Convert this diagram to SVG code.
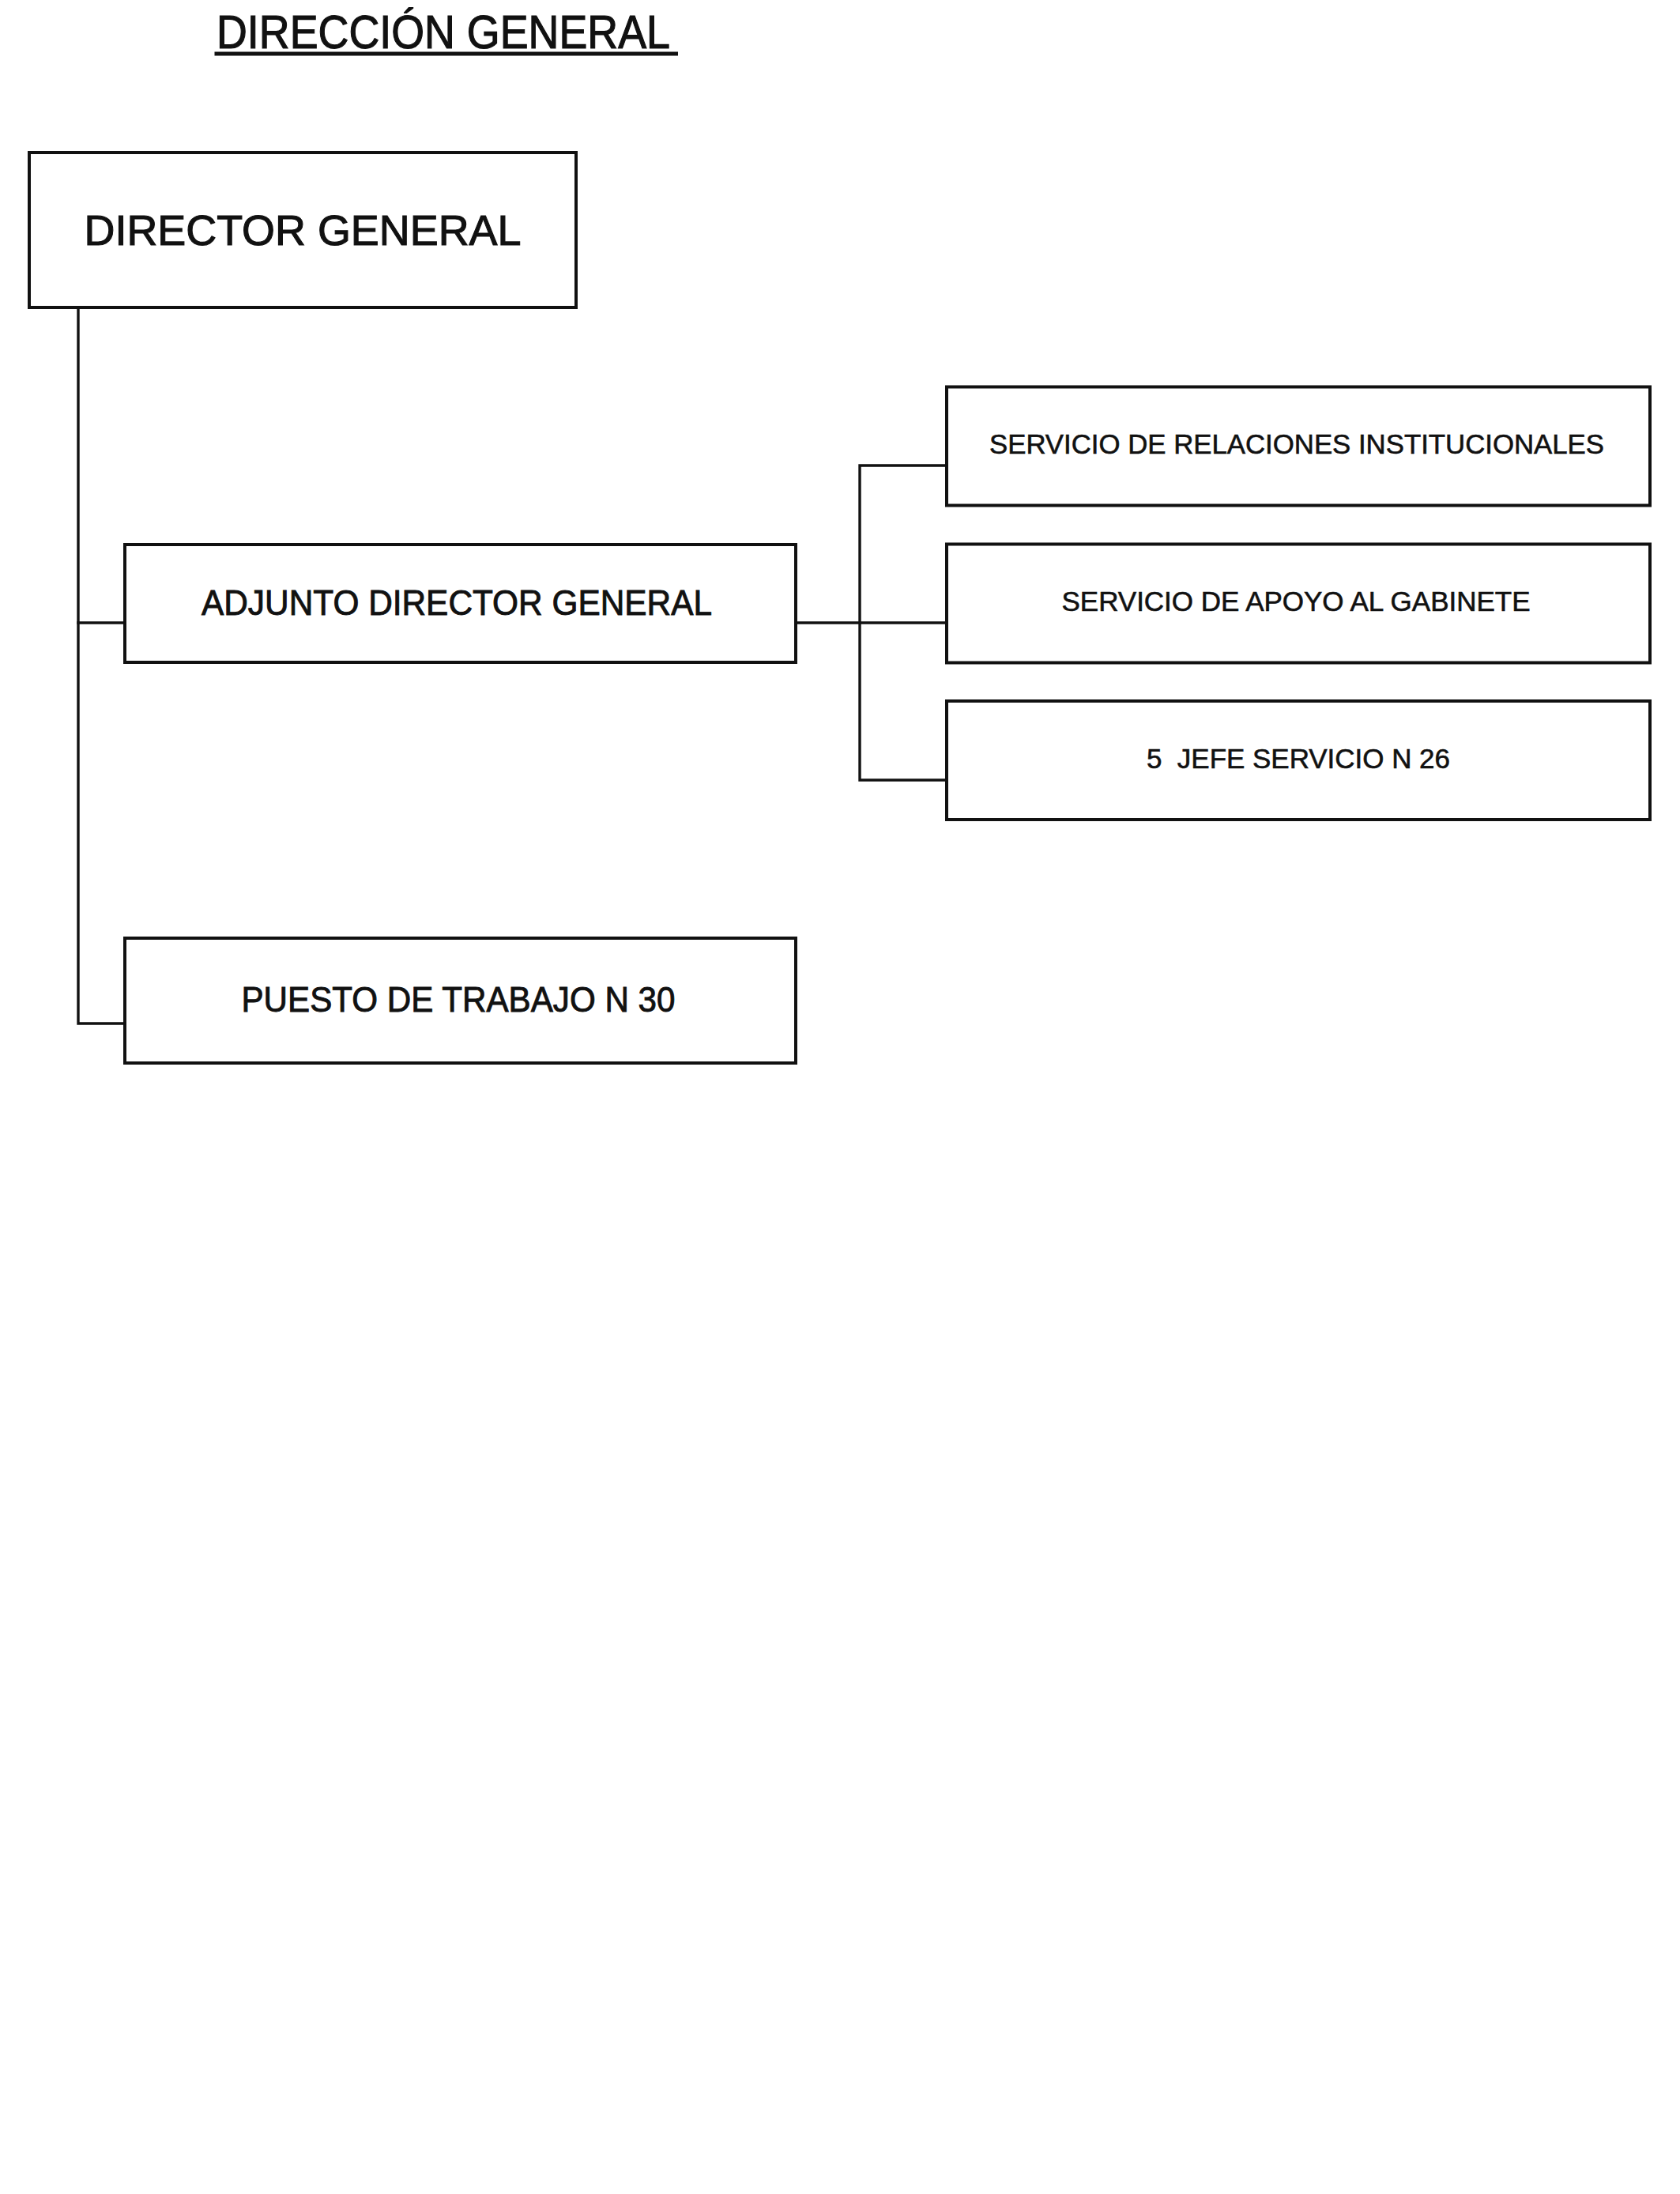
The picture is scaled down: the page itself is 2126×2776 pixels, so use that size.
<svg xmlns="http://www.w3.org/2000/svg" width="2126" height="2776" viewBox="0 0 2126 2776">
  <style>
    .box { fill: #ffffff; stroke: #111111; stroke-width: 4; }
    .conn { fill: none; stroke: #111111; stroke-width: 3.4; stroke-linecap: square; }
    .lbl { font-family: "Liberation Sans", Arial, sans-serif; fill: #111111; stroke: #111111; stroke-width: 0.9; text-anchor: middle; white-space: pre; }
  </style>
  <rect x="0" y="0" width="2126" height="2776" fill="#ffffff"/>

  <g id="title">
    <text class="lbl" x="561" y="61" font-size="60" textLength="574" lengthAdjust="spacingAndGlyphs" style="stroke-width:1.2">DIRECCIÓN GENERAL</text>
    <line x1="271.5" y1="68" x2="858" y2="68" stroke="#111111" stroke-width="5"/>
  </g>

  <g id="connectors">
    <polyline class="conn" points="99,389 99,1295 158,1295"/>
    <line class="conn" x1="99" y1="788" x2="158" y2="788"/>
    <line class="conn" x1="1007" y1="788" x2="1198" y2="788"/>
    <polyline class="conn" points="1198,589 1088,589 1088,987 1198,987"/>
  </g>

  <g id="director-general">
    <rect class="box" x="37" y="193" width="692" height="196"/>
    <text class="lbl" x="383" y="310" font-size="54" textLength="553" lengthAdjust="spacingAndGlyphs" style="stroke-width:1.1">DIRECTOR GENERAL</text>
  </g>

  <g id="adjunto-director-general">
    <rect class="box" x="158" y="689" width="849" height="149"/>
    <text class="lbl" x="578" y="778" font-size="44" textLength="646" lengthAdjust="spacingAndGlyphs">ADJUNTO DIRECTOR GENERAL</text>
  </g>

  <g id="puesto-trabajo-30">
    <rect class="box" x="158" y="1187" width="849" height="158"/>
    <text class="lbl" x="580" y="1280" font-size="44" textLength="549" lengthAdjust="spacingAndGlyphs">PUESTO DE TRABAJO N 30</text>
  </g>

  <g id="servicio-relaciones">
    <rect class="box" x="1198" y="489.5" width="890" height="150"/>
    <text class="lbl" x="1641" y="574" font-size="35" textLength="778" lengthAdjust="spacingAndGlyphs" style="stroke-width:0.6">SERVICIO DE RELACIONES INSTITUCIONALES</text>
  </g>

  <g id="servicio-apoyo">
    <rect class="box" x="1198" y="688.5" width="890" height="150"/>
    <text class="lbl" x="1640" y="773" font-size="35" textLength="593" lengthAdjust="spacingAndGlyphs" style="stroke-width:0.6">SERVICIO DE APOYO AL GABINETE</text>
  </g>

  <g id="jefe-servicio-26">
    <rect class="box" x="1198" y="887" width="890" height="150"/>
    <text class="lbl" x="1643" y="972" font-size="35" textLength="384" lengthAdjust="spacingAndGlyphs" style="stroke-width:0.6">5  JEFE SERVICIO N 26</text>
  </g>
</svg>
